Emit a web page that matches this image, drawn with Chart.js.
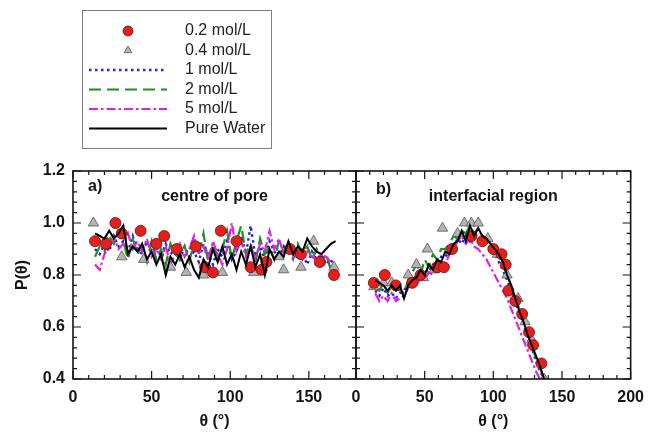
<!DOCTYPE html>
<html>
<head>
<meta charset="utf-8">
<script src="https://cdn.jsdelivr.net/npm/chart.js@4.4.0/dist/chart.umd.min.js"></script>
<style>
  body { margin: 0; background: #fff; }
  #wrap { position: relative; width: 653px; height: 436px; }
  #wrap canvas { position: absolute; left: 0; top: 0; }
</style>
</head>
<body>
<div id="wrap">
  <canvas id="panelA" width="653" height="436"></canvas>
  <canvas id="panelB" width="653" height="436"></canvas>
</div>
<script>
// ---- a) centre of pore ----
const thetaA = [14, 17, 20, 23, 26, 29, 32, 35, 38, 41, 44, 47, 50, 53, 56, 59, 62, 65, 68, 71,
  74, 77, 80, 83, 86, 89, 92, 95, 98, 101, 104, 107, 110, 113, 116, 119, 122, 125, 128, 131,
  134, 137, 140, 143, 146, 149, 152, 155, 158, 161, 164, 167];
const oneMolA = [0.90, 0.88, 0.92, 0.89, 0.95, 0.91, 0.93, 0.89, 0.95, 0.90, 0.88, 0.93, 0.89, 0.91, 0.87, 0.92, 0.88, 0.90, 0.86, 0.91,
  0.87, 0.89, 0.85, 0.92, 0.88, 0.84, 0.90, 0.87, 0.93, 0.86, 0.89, 0.95, 0.88, 0.99, 0.87, 0.91, 0.86, 0.93, 0.89, 0.87,
  0.91, 0.88, 0.90, 0.86, 0.88, 0.84, 0.89, 0.86, 0.88, 0.84, 0.86, 0.82];
const twoMolA = [0.87, 0.91, 0.89, 0.95, 0.92, 0.97, 0.93, 0.86, 0.94, 0.88, 0.91, 0.85, 0.93, 0.86, 0.90, 0.84, 0.92, 0.88, 0.86, 0.91,
  0.85, 0.93, 0.88, 0.96, 0.85, 0.92, 0.87, 0.90, 0.97, 0.86, 0.93, 0.99, 0.88, 0.92, 0.85, 0.94, 0.88, 0.91, 0.86, 0.93,
  0.89, 0.90, 0.86, 0.92, 0.88, 0.91, 0.86, 0.90, 0.85, 0.88, 0.82, 0.81];
const fiveMolA = [0.84, 0.82, 0.88, 0.91, 0.94, 0.90, 0.92, 0.96, 0.90, 0.93, 0.89, 0.94, 0.87, 0.90, 0.86, 0.91, 0.84, 0.88, 0.92, 0.87,
  0.90, 0.95, 0.88, 0.91, 0.86, 0.93, 0.88, 0.84, 0.90, 1.00, 0.89, 0.93, 0.87, 0.91, 0.86, 0.92, 0.89, 0.97, 0.90, 0.94,
  0.88, 0.91, 0.87, 0.90, 0.86, 0.89, 0.87, 0.86, 0.88, 0.87, 0.85, 0.83];
const waterA = [0.96, 0.95, 0.94, 0.97, 0.94, 0.96, 0.99, 0.88, 0.91, 0.89, 0.92, 0.86, 0.89, 0.84, 0.88, 0.80, 0.87, 0.84, 0.88, 0.83,
  0.87, 0.82, 0.79, 0.86, 0.83, 0.90, 0.85, 0.91, 0.84, 0.88, 0.82, 0.89, 0.84, 0.91, 0.83, 0.88, 0.80, 0.90, 0.86, 0.89,
  0.87, 0.93, 0.88, 0.91, 0.89, 0.94, 0.91, 0.89, 0.88, 0.90, 0.92, 0.93];
const redThetaA = [14, 21, 27, 31, 43, 53, 58, 66, 78, 84, 89, 94, 104, 113, 120, 123, 138, 145, 157, 166];
const redA = [0.93, 0.92, 1.00, 0.96, 0.97, 0.92, 0.95, 0.90, 0.91, 0.83, 0.81, 0.97, 0.93, 0.83, 0.82, 0.85, 0.90, 0.88, 0.85, 0.80];
const greyThetaA = [13, 21, 31, 45, 62, 72, 83, 95, 115, 131, 134, 145, 153, 157, 166];
const greyA = [1.00, 0.93, 0.87, 0.86, 0.83, 0.81, 0.80, 0.81, 0.81, 0.87, 0.82, 0.83, 0.93, 0.85, 0.83];

// ---- b) interfacial region ----
const thetaB = [14, 17, 20, 23, 26, 29, 32, 35, 38, 41, 44, 47, 50, 53, 56, 59, 62, 65, 68, 71,
  74, 77, 80, 83, 86, 89, 92, 95, 98, 101, 104, 107, 110, 113, 116, 119, 122, 125, 128, 131, 134, 137];
const oneMolB = [0.74, 0.72, 0.75, 0.72, 0.73, 0.71, 0.73, 0.74, 0.77, 0.77, 0.80, 0.79, 0.82, 0.81, 0.84, 0.84, 0.87, 0.87, 0.89, 0.91,
  0.94, 0.92, 0.95, 0.93, 0.96, 0.94, 0.93, 0.92, 0.90, 0.88, 0.85, 0.82, 0.78, 0.74, 0.70, 0.65, 0.61, 0.56, 0.52, 0.47, 0.43, 0.40];
const twoMolB = [0.75, 0.74, 0.77, 0.73, 0.76, 0.75, 0.74, 0.73, 0.78, 0.81, 0.84, 0.80, 0.86, 0.83, 0.88, 0.86, 0.90, 0.90, 0.92, 0.95,
  0.94, 0.97, 0.96, 0.99, 0.96, 0.98, 0.95, 0.93, 0.91, 0.89, 0.87, 0.84, 0.80, 0.76, 0.71, 0.67, 0.62, 0.58, 0.53, 0.48, 0.44, 0.40];
const fiveMolB = [0.73, 0.70, 0.72, 0.70, 0.73, 0.70, 0.71, 0.72, 0.75, 0.77, 0.76, 0.79, 0.78, 0.81, 0.80, 0.83, 0.85, 0.84, 0.88, 0.90,
  0.93, 0.95, 0.92, 0.94, 0.91, 0.90, 0.88, 0.86, 0.83, 0.80, 0.77, 0.74, 0.71, 0.67, 0.63, 0.59, 0.55, 0.51, 0.47, 0.43, 0.40];
const waterB = [0.78, 0.77, 0.76, 0.74, 0.76, 0.74, 0.76, 0.71, 0.76, 0.78, 0.79, 0.82, 0.80, 0.84, 0.82, 0.86, 0.85, 0.89, 0.88, 0.92,
  0.93, 0.97, 0.93, 0.99, 0.95, 0.98, 0.95, 0.94, 0.92, 0.90, 0.88, 0.85, 0.80, 0.76, 0.71, 0.66, 0.62, 0.57, 0.53, 0.49, 0.45, 0.40];
const redThetaB = [13, 21, 29, 41, 47, 59, 64, 70, 84, 92, 100, 106, 109, 111, 116, 121, 126, 129, 135];
const redB = [0.77, 0.80, 0.76, 0.77, 0.80, 0.83, 0.83, 0.90, 0.95, 0.93, 0.90, 0.88, 0.84, 0.74, 0.70, 0.65, 0.58, 0.53, 0.46];
const greyThetaB = [13, 20, 26, 38, 44, 49, 52, 57, 63, 74, 79, 84, 89, 96, 103, 110, 118, 123, 128, 137];
const greyB = [0.755, 0.77, 0.77, 0.80, 0.84, 0.79, 0.90, 0.82, 0.98, 0.96, 1.00, 1.00, 1.00, 0.94, 0.88, 0.80, 0.71, 0.62, 0.55, 0.40];

const FONT = '"Liberation Sans", Arial, sans-serif';
const INK = '#141414';

const pairs = (xs, ys) => ys.map((v, i) => ({ x: xs[i], y: v }));
const isMajorY = v => Math.abs(v * 5 - Math.round(v * 5)) < 1e-6;

function seriesFor(p) {
  return [
    { label: '0.2 mol/L', data: pairs(p.redX, p.red), showLine: false, order: 1,
      pointStyle: 'circle', pointRadius: 5.5, pointBackgroundColor: '#e51f1b', pointBorderColor: '#6e0f0b', pointBorderWidth: 0.8 },
    { label: '0.4 mol/L', data: pairs(p.greyX, p.grey), showLine: false, order: 2,
      pointStyle: 'triangle', pointRadius: 6, pointBackgroundColor: '#b3b3b3', pointBorderColor: '#555555', pointBorderWidth: 0.8 },
    { label: '1 mol/L', data: pairs(p.theta, p.one), showLine: true, order: 5, pointRadius: 0,
      borderColor: '#2020e8', borderWidth: 2.4, borderDash: [2.5, 3.5] },
    { label: '2 mol/L', data: pairs(p.theta, p.two), showLine: true, order: 4, pointRadius: 0,
      borderColor: '#1f8f1f', borderWidth: 2.2, borderDash: [12, 6] },
    { label: '5 mol/L', data: pairs(p.theta, p.five), showLine: true, order: 3, pointRadius: 0,
      borderColor: '#e01fe0', borderWidth: 2.2, borderDash: [9, 3, 2.5, 3] },
    { label: 'Pure Water', data: pairs(p.theta, p.water), showLine: true, order: 0, pointRadius: 0,
      borderColor: '#000000', borderWidth: 2 }
  ];
}

// inward tick marks on all four sides plus the frame and panel captions
const panelFrame = {
  id: 'panelFrame',
  afterDatasetsDraw(chart, args, opts) {
    const { ctx, chartArea: a } = chart;
    const xs = chart.scales.x, ys = chart.scales.y;
    ctx.save();
    ctx.strokeStyle = INK;
    ctx.lineWidth = 1.2;
    ctx.beginPath();
    xs.ticks.forEach(t => {
      const px = xs.getPixelForValue(t.value);
      const len = t.value % 50 === 0 ? 8 : 4;
      ctx.moveTo(px, a.bottom); ctx.lineTo(px, a.bottom - len);
      ctx.moveTo(px, a.top); ctx.lineTo(px, a.top + len);
    });
    ys.ticks.forEach(t => {
      const py = ys.getPixelForValue(t.value);
      const len = isMajorY(t.value) ? 8 : 4;
      ctx.moveTo(a.left, py); ctx.lineTo(a.left + len, py);
      ctx.moveTo(a.right, py); ctx.lineTo(a.right - len, py);
    });
    ctx.stroke();
    ctx.lineWidth = 1.6;
    ctx.strokeRect(a.left, a.top, a.right - a.left, a.bottom - a.top);

    ctx.fillStyle = INK;
    ctx.font = 'bold 16px ' + FONT;
    ctx.textBaseline = 'middle';
    ctx.textAlign = 'left';
    ctx.fillText(opts.tag, a.left + opts.tagDx, a.top + opts.tagDy);
    ctx.textAlign = 'center';
    ctx.fillText(opts.caption, (a.left + a.right) / 2, a.top + 26);
    ctx.restore();
  }
};

// boxed key at the top left, drawn from the datasets' own styles
const seriesKey = {
  id: 'seriesKey',
  afterDraw(chart, args, opts) {
    if (!opts.show) return;
    const ctx = chart.ctx;
    ctx.save();
    ctx.strokeStyle = '#808080';
    ctx.lineWidth = 1;
    ctx.strokeRect(82.5, 10.5, 189, 138);
    chart.data.datasets.forEach((ds, i) => {
      const y = 31 + i * 19.5;
      if (ds.showLine) {
        ctx.strokeStyle = ds.borderColor;
        ctx.lineWidth = ds.borderWidth;
        ctx.setLineDash(ds.borderDash || []);
        ctx.beginPath();
        ctx.moveTo(89, y); ctx.lineTo(167, y);
        ctx.stroke();
        ctx.setLineDash([]);
      } else {
        ctx.fillStyle = ds.pointBackgroundColor;
        ctx.strokeStyle = ds.pointBorderColor;
        ctx.lineWidth = ds.pointBorderWidth;
        Chart.helpers.drawPoint(ctx, {
          pointStyle: ds.pointStyle,
          radius: ds.pointStyle === 'circle' ? 5 : 4.5,
          rotation: 0,
          borderWidth: ds.pointBorderWidth
        }, 128, y);
      }
      ctx.fillStyle = '#222';
      ctx.font = '16px ' + FONT;
      ctx.textAlign = 'left';
      ctx.textBaseline = 'middle';
      ctx.fillText(ds.label, 185, y);
    });
    ctx.restore();
  }
};

function makePanel(id, p) {
  const tickFont = { family: FONT, size: 16, weight: 'bold' };
  return new Chart(document.getElementById(id), {
    type: 'scatter',
    data: { datasets: seriesFor(p) },
    options: {
      responsive: false,
      animation: false,
      events: [],
      layout: { padding: p.padding },
      elements: { line: { tension: 0 } },
      plugins: {
        legend: { display: false },
        tooltip: { enabled: false },
        panelFrame: { tag: p.tag, caption: p.caption, tagDx: p.tagDx, tagDy: p.tagDy },
        seriesKey: { show: p.key }
      },
      scales: {
        x: {
          type: 'linear',
          min: 0,
          max: p.xMax,
          grid: { display: false, drawTicks: false },
          border: { display: false },
          ticks: {
            stepSize: 10, autoSkip: false, maxRotation: 0, maxTicksLimit: 100, padding: 9,
            color: INK, font: tickFont,
            callback: v => (v % 50 === 0 ? String(v) : '')
          },
          title: { display: true, text: 'θ (°)', color: INK, font: tickFont, padding: { top: 0, bottom: 5 } },
          afterFit: s => { s.height = 57; }
        },
        y: {
          min: 0.4,
          max: 1.2,
          grid: { display: false, drawTicks: false },
          border: { display: false },
          ticks: {
            display: p.yLabels, stepSize: 0.04, autoSkip: false, maxTicksLimit: 100, padding: 8,
            color: INK, font: tickFont,
            callback: v => (isMajorY(v) ? v.toFixed(1) : '')
          },
          title: { display: p.yLabels, text: 'P(θ)', color: INK, font: tickFont, padding: { top: 5, bottom: 0 } },
          afterFit: s => { s.width = p.yLabels ? 65 : 0; }
        }
      }
    },
    plugins: [panelFrame, seriesKey]
  });
}

makePanel('panelA', {
  theta: thetaA, one: oneMolA, two: twoMolA, five: fiveMolA, water: waterA,
  redX: redThetaA, red: redA, greyX: greyThetaA, grey: greyA,
  xMax: 180, yLabels: true, key: true,
  tag: 'a)', caption: 'centre of pore', tagDx: 15, tagDy: 16,
  padding: { left: 8, top: 171, right: 297, bottom: 0 }
});

makePanel('panelB', {
  theta: thetaB, one: oneMolB, two: twoMolB, five: fiveMolB, water: waterB,
  redX: redThetaB, red: redB, greyX: greyThetaB, grey: greyB,
  xMax: 200, yLabels: false, key: false,
  tag: 'b)', caption: 'interfacial region', tagDx: 20, tagDy: 19,
  padding: { left: 356, top: 171, right: 14, bottom: 0 }
});
</script>
</body>
</html>
